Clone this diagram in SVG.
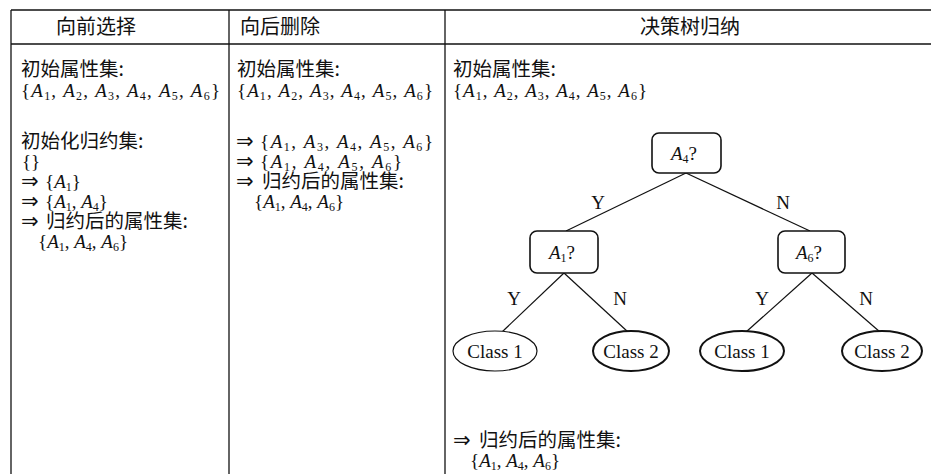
<svg xmlns="http://www.w3.org/2000/svg" width="931" height="474" viewBox="0 0 931 474">
<style>
.c{font-family:"Noto Sans CJK SC","Noto Sans CJK JP",sans-serif;font-size:19.5px;fill:#111}
.h{font-size:20px}
.m{font-family:"Liberation Serif","DejaVu Serif",serif;font-size:19px;fill:#111}
.i{font-style:italic}
.s{font-size:12px}
.ar{font-family:"DejaVu Sans",sans-serif;font-size:21px;fill:#111}
.g{stroke:#111;stroke-width:1.3;fill:none}
.box{fill:#fff;stroke:#111;stroke-width:1.6}
.ell{fill:#fff;stroke:#111;stroke-width:2}
.lbl{font-family:"Liberation Serif",serif;font-size:19px;fill:#111;text-anchor:middle}
.e{stroke:#111;stroke-width:1.2;fill:none}
</style>
<g id="table" class="g">
<line x1="11" y1="10" x2="931" y2="10"/>
<line x1="11" y1="44" x2="931" y2="44"/>
<line x1="11" y1="10" x2="11" y2="474"/>
<line x1="229" y1="10" x2="229" y2="474"/>
<line x1="445" y1="10" x2="445" y2="474"/>
</g>
<g id="headers">
<text class="c h" x="56" y="34">向前选择</text>
<text class="c h" x="240" y="34">向后删除</text>
<text class="c h" x="690" y="34" text-anchor="middle">决策树归纳</text>
</g>
<g id="col-forward">
<text class="c" x="21" y="76">初始属性集:</text>
<text class="m" x="21" y="97" textLength="199">{<tspan class="i">A</tspan><tspan class="s" dy="3">1</tspan><tspan dy="-3">, </tspan><tspan class="i">A</tspan><tspan class="s" dy="3">2</tspan><tspan dy="-3">, </tspan><tspan class="i">A</tspan><tspan class="s" dy="3">3</tspan><tspan dy="-3">, </tspan><tspan class="i">A</tspan><tspan class="s" dy="3">4</tspan><tspan dy="-3">, </tspan><tspan class="i">A</tspan><tspan class="s" dy="3">5</tspan><tspan dy="-3">, </tspan><tspan class="i">A</tspan><tspan class="s" dy="3">6</tspan><tspan dy="-3">}</tspan></text>
<text class="c" x="21" y="148">初始化归约集:</text>
<text class="m" x="22" y="168">{}</text>
<text class="ar" x="21" y="188">⇒</text>
<text class="m" x="45" y="188">{<tspan class="i">A</tspan><tspan class="s" dy="3">1</tspan><tspan dy="-3">}</tspan></text>
<text class="ar" x="21" y="208">⇒</text>
<text class="m" x="45" y="208">{<tspan class="i">A</tspan><tspan class="s" dy="3">1</tspan><tspan dy="-3">, </tspan><tspan class="i">A</tspan><tspan class="s" dy="3">4</tspan><tspan dy="-3">}</tspan></text>
<text class="ar" x="21" y="228">⇒</text>
<text class="c" x="46" y="228">归约后的属性集:</text>
<text class="m" x="38" y="248">{<tspan class="i">A</tspan><tspan class="s" dy="3">1</tspan><tspan dy="-3">, </tspan><tspan class="i">A</tspan><tspan class="s" dy="3">4</tspan><tspan dy="-3">, </tspan><tspan class="i">A</tspan><tspan class="s" dy="3">6</tspan><tspan dy="-3">}</tspan></text>
</g>
<g id="col-backward">
<text class="c" x="237" y="76">初始属性集:</text>
<text class="m" x="237" y="97" textLength="196">{<tspan class="i">A</tspan><tspan class="s" dy="3">1</tspan><tspan dy="-3">, </tspan><tspan class="i">A</tspan><tspan class="s" dy="3">2</tspan><tspan dy="-3">, </tspan><tspan class="i">A</tspan><tspan class="s" dy="3">3</tspan><tspan dy="-3">, </tspan><tspan class="i">A</tspan><tspan class="s" dy="3">4</tspan><tspan dy="-3">, </tspan><tspan class="i">A</tspan><tspan class="s" dy="3">5</tspan><tspan dy="-3">, </tspan><tspan class="i">A</tspan><tspan class="s" dy="3">6</tspan><tspan dy="-3">}</tspan></text>
<text class="ar" x="236" y="148">⇒</text>
<text class="m" x="260" y="148" textLength="173">{<tspan class="i">A</tspan><tspan class="s" dy="3">1</tspan><tspan dy="-3">, </tspan><tspan class="i">A</tspan><tspan class="s" dy="3">3</tspan><tspan dy="-3">, </tspan><tspan class="i">A</tspan><tspan class="s" dy="3">4</tspan><tspan dy="-3">, </tspan><tspan class="i">A</tspan><tspan class="s" dy="3">5</tspan><tspan dy="-3">, </tspan><tspan class="i">A</tspan><tspan class="s" dy="3">6</tspan><tspan dy="-3">}</tspan></text>
<text class="ar" x="236" y="168">⇒</text>
<text class="m" x="260" y="168" textLength="142">{<tspan class="i">A</tspan><tspan class="s" dy="3">1</tspan><tspan dy="-3">, </tspan><tspan class="i">A</tspan><tspan class="s" dy="3">4</tspan><tspan dy="-3">, </tspan><tspan class="i">A</tspan><tspan class="s" dy="3">5</tspan><tspan dy="-3">, </tspan><tspan class="i">A</tspan><tspan class="s" dy="3">6</tspan><tspan dy="-3">}</tspan></text>
<text class="ar" x="236" y="188">⇒</text>
<text class="c" x="262" y="188">归约后的属性集:</text>
<text class="m" x="254" y="208">{<tspan class="i">A</tspan><tspan class="s" dy="3">1</tspan><tspan dy="-3">, </tspan><tspan class="i">A</tspan><tspan class="s" dy="3">4</tspan><tspan dy="-3">, </tspan><tspan class="i">A</tspan><tspan class="s" dy="3">6</tspan><tspan dy="-3">}</tspan></text>
</g>
<g id="col-tree">
<text class="c" x="453" y="76">初始属性集:</text>
<text class="m" x="453" y="97" textLength="194">{<tspan class="i">A</tspan><tspan class="s" dy="3">1</tspan><tspan dy="-3">, </tspan><tspan class="i">A</tspan><tspan class="s" dy="3">2</tspan><tspan dy="-3">, </tspan><tspan class="i">A</tspan><tspan class="s" dy="3">3</tspan><tspan dy="-3">, </tspan><tspan class="i">A</tspan><tspan class="s" dy="3">4</tspan><tspan dy="-3">, </tspan><tspan class="i">A</tspan><tspan class="s" dy="3">5</tspan><tspan dy="-3">, </tspan><tspan class="i">A</tspan><tspan class="s" dy="3">6</tspan><tspan dy="-3">}</tspan></text>
<text class="ar" x="453" y="447">⇒</text>
<text class="c" x="479" y="447">归约后的属性集:</text>
<text class="m" x="470" y="467">{<tspan class="i">A</tspan><tspan class="s" dy="3">1</tspan><tspan dy="-3">, </tspan><tspan class="i">A</tspan><tspan class="s" dy="3">4</tspan><tspan dy="-3">, </tspan><tspan class="i">A</tspan><tspan class="s" dy="3">6</tspan><tspan dy="-3">}</tspan></text>
</g>
<g id="connectors" class="e">
<line x1="686" y1="173" x2="566" y2="231"/>
<line x1="686" y1="173" x2="810" y2="231"/>
<line x1="564" y1="273" x2="502" y2="332"/>
<line x1="564" y1="273" x2="628" y2="332"/>
<line x1="812" y1="273" x2="746" y2="332"/>
<line x1="812" y1="273" x2="880" y2="332"/>
</g>
<g id="edge-labels">
<text class="lbl" x="598" y="209">Y</text>
<text class="lbl" x="783" y="209">N</text>
<text class="lbl" x="514" y="305">Y</text>
<text class="lbl" x="620" y="305">N</text>
<text class="lbl" x="762" y="305">Y</text>
<text class="lbl" x="866" y="305">N</text>
</g>
<g id="node-A4">
<rect class="box" x="652" y="133" width="69" height="40" rx="7"/>
<text class="m" x="671" y="160"><tspan class="i">A</tspan><tspan class="s" dy="3">4</tspan><tspan dy="-3">?</tspan></text>
</g>
<g id="node-A1">
<rect class="box" x="530" y="231" width="68" height="42" rx="7"/>
<text class="m" x="549" y="259"><tspan class="i">A</tspan><tspan class="s" dy="3">1</tspan><tspan dy="-3">?</tspan></text>
</g>
<g id="node-A6">
<rect class="box" x="778" y="231" width="67" height="42" rx="7"/>
<text class="m" x="796" y="259"><tspan class="i">A</tspan><tspan class="s" dy="3">6</tspan><tspan dy="-3">?</tspan></text>
</g>
<g id="leaf-1">
<ellipse class="ell" cx="495" cy="351" rx="42" ry="20" style="stroke-width:1.2"/>
<text class="lbl" x="495" y="358">Class 1</text>
</g>
<g id="leaf-2">
<ellipse class="ell" cx="631" cy="351" rx="38" ry="20"/>
<text class="lbl" x="631" y="358">Class 2</text>
</g>
<g id="leaf-3">
<ellipse class="ell" cx="742" cy="351" rx="42" ry="20"/>
<text class="lbl" x="742" y="358">Class 1</text>
</g>
<g id="leaf-4">
<ellipse class="ell" cx="882" cy="351" rx="40" ry="20"/>
<text class="lbl" x="882" y="358">Class 2</text>
</g>
</svg>
